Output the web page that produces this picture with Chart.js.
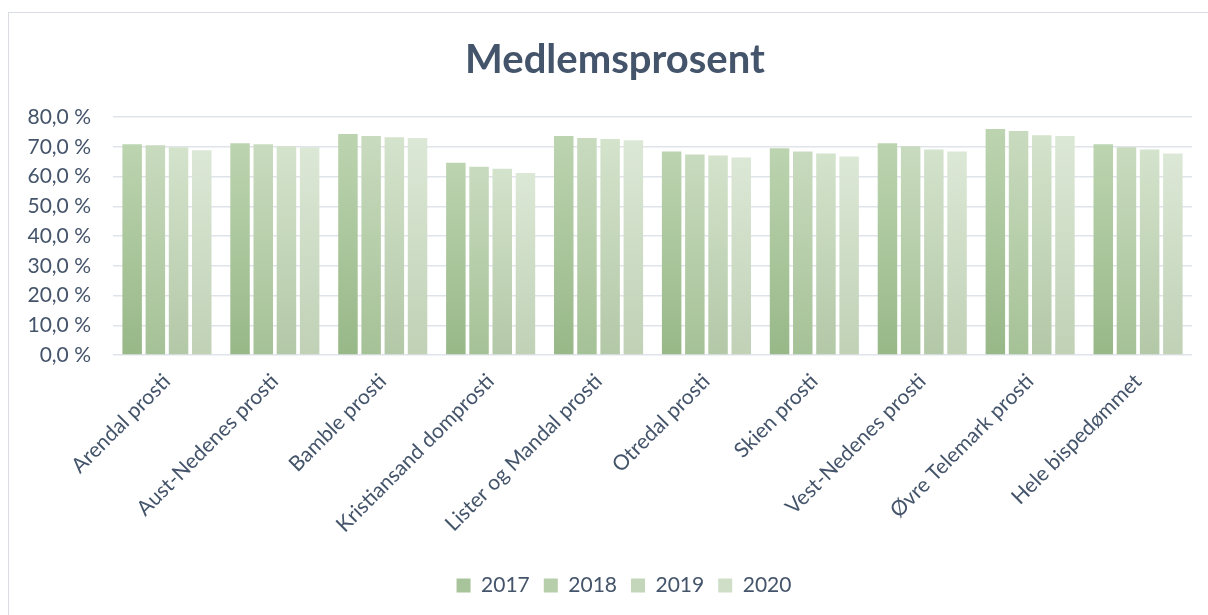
<!DOCTYPE html>
<html>
<head>
<meta charset="utf-8">
<script src="https://cdn.jsdelivr.net/npm/chart.js@4.4.1/dist/chart.umd.min.js"></script>
<style>
  html, body { margin: 0; padding: 0; background: #fff; }
  #wrap { position: relative; width: 1208px; height: 615px; overflow: hidden; }
  #frame { position: absolute; left: 8px; top: 12px; width: 1300px; height: 700px;
           border-left: 1px solid #d9dde3; border-top: 1px solid #d9dde3; }
  canvas { position: absolute; left: 0; top: 0; }
</style>
</head>
<body>
<div id="wrap">
  <div id="frame"></div>
  <canvas id="chart" width="1208" height="615"></canvas>
</div>
<script>
const categories = ["Arendal prosti", "Aust-Nedenes prosti", "Bamble prosti", "Kristiansand domprosti",
  "Lister og Mandal prosti", "Otredal prosti", "Skien prosti", "Vest-Nedenes prosti",
  "Øvre Telemark prosti", "Hele bispedømmet"];
const years = ["2017", "2018", "2019", "2020"];
const values2017 = [70.8, 71.2, 74.3, 64.6, 73.6, 68.4, 69.5, 71.2, 76.0, 70.8];
const values2018 = [70.5, 70.8, 73.6, 63.3, 72.9, 67.4, 68.4, 70.2, 75.3, 69.8];
const values2019 = [69.8, 70.2, 73.2, 62.6, 72.6, 67.1, 67.7, 69.1, 73.9, 69.1];
const values2020 = [68.8, 69.8, 72.9, 61.2, 72.2, 66.4, 66.7, 68.4, 73.6, 67.7];
const yTicks = [0, 10, 20, 30, 40, 50, 60, 70, 80];

// bottom / top colours of each series' gradient
const gradBottom = ["#98b888", "#a5c196", "#b3c8a7", "#c0d1b6"];
const gradTop = ["#bcd4b0", "#c9dbbf", "#d4e3cc", "#dce8d6"];
const legendFill = ["#a8c49a", "#b6ceaa", "#c3d6b9", "#cfdec7"];

const textColor = "#44546a";
const fontFamily = "Lato, 'Open Sans', sans-serif";

function barGradient(i) {
  return function (ctx) {
    const chart = ctx.chart;
    const area = chart.chartArea;
    if (!area || ctx.type !== 'data') return legendFill[i];
    const yScale = chart.scales.y;
    const top = yScale.getPixelForValue(ctx.raw);
    const bottom = yScale.getPixelForValue(0);
    const g = chart.ctx.createLinearGradient(0, bottom, 0, top);
    g.addColorStop(0, gradBottom[i]);
    g.addColorStop(1, gradTop[i]);
    return g;
  };
}

// the original frame is wider than the window, so title and legend sit right of centre
const shiftBlocks = {
  id: 'shiftBlocks',
  afterLayout(chart) {
    chart.legend.left += 28;
    chart.legend.right += 28;
    chart.titleBlock.left += 19;
    chart.titleBlock.right += 19;
  }
};

const seriesValues = [values2017, values2018, values2019, values2020];

new Chart(document.getElementById('chart'), {
  type: 'bar',
  data: {
    labels: categories,
    datasets: years.map((yr, i) => ({
      label: yr,
      data: seriesValues[i],
      backgroundColor: barGradient(i),
      borderWidth: 0,
      barPercentage: 0.84,
      categoryPercentage: 0.86
    }))
  },
  options: {
    responsive: false,
    animation: false,
    layout: { padding: { left: 0, right: 16, top: 0, bottom: 9 } },
    plugins: {
      title: {
        display: true,
        text: 'Medlemsprosent',
        color: textColor,
        font: { family: fontFamily, size: 40, weight: 'bold' },
        padding: { top: 36, bottom: 33 }
      },
      legend: {
        position: 'bottom',
        labels: {
          color: textColor,
          font: { family: fontFamily, size: 21 },
          boxWidth: 14,
          boxHeight: 14,
          padding: 14,
          generateLabels: function (chart) {
            return chart.data.datasets.map((ds, i) => ({
              text: ds.label,
              fillStyle: legendFill[i],
              strokeStyle: legendFill[i],
              lineWidth: 0,
              fontColor: textColor,
              hidden: false,
              datasetIndex: i
            }));
          }
        }
      },
      tooltip: { enabled: false }
    },
    scales: {
      x: {
        grid: { display: false, drawTicks: false },
        border: { display: false },
        ticks: {
          color: textColor,
          font: { family: fontFamily, size: 21 },
          maxRotation: 45,
          minRotation: 45,
          padding: 14,
          autoSkip: false
        },
        afterFit: function (axis) { axis.height = 206; }
      },
      y: {
        min: 0,
        max: 80,
        afterBuildTicks: function (axis) { axis.ticks = yTicks.map(v => ({ value: v })); },
        grid: { color: '#dfe3ea', lineWidth: 1.5, drawTicks: false },
        border: { display: false },
        ticks: {
          color: textColor,
          font: { family: fontFamily, size: 21 },
          padding: 22,
          callback: v => v.toFixed(1).replace('.', ',') + ' %'
        },
        afterFit: function (axis) { axis.width = 113; }
      }
    }
  },
  plugins: [shiftBlocks]
});
</script>
</body>
</html>
